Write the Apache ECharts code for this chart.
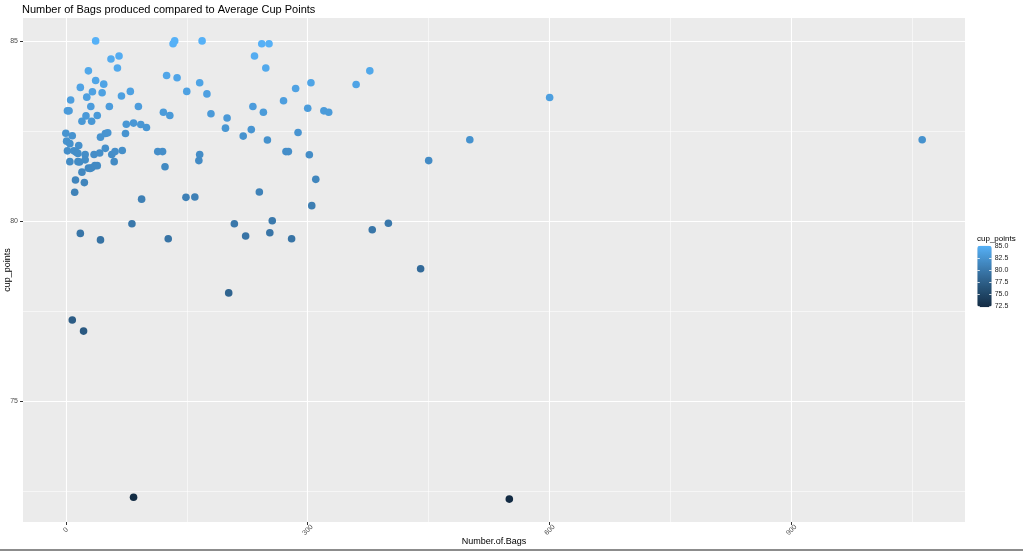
<!DOCTYPE html>
<html>
<head>
<meta charset="utf-8">
<title>Number of Bags produced compared to Average Cup Points</title>
<script src="https://cdn.jsdelivr.net/npm/echarts@6/dist/echarts.min.js"></script>
<style>
html,body{margin:0;padding:0;background:#fff;}
#chart{width:1023px;height:551px;}
</style>
</head>
<body>
<div id="chart"></div>
<script>
// ---- data ----
const numberOfBags = [
  37,133,135,169,243,252,56,66,234,64,248,28,377,125,138,37,47,166,304,360,
  285,18,33,45,26,69,80,150,175,270,6,2,4,31,54,90,232,300,320,326,
  121,129,180,200,245,25,39,20,32,75,84,93,100,198,230,220,250,288,0,8,
  43,49,52,74,1,5,16,2,10,13,15,24,35,42,49,57,61,70,114,120,
  166,165,273,276,302,5,15,17,24,60,123,20,28,30,32,36,39,12,23,11,
  94,149,160,240,310,305,450,501,600,1062,82,18,43,127,209,256,223,253,280,380,
  400,440,202,8,22,84,550
];
const cupPoints = [
  85.00,84.92,85.00,85.00,84.92,84.92,84.50,84.58,84.58,84.25,84.25,84.17,84.17,84.04,83.98,83.90,83.80,83.84,83.84,83.79,
  83.68,83.71,83.59,83.56,83.44,83.47,83.60,83.60,83.53,83.34,83.36,83.06,83.06,83.18,83.18,83.18,83.18,83.13,83.06,83.02,
  83.02,82.93,82.98,82.86,83.02,82.92,82.93,82.77,82.77,82.69,82.72,82.68,82.60,82.58,82.54,82.36,82.25,82.46,82.44,82.37,
  82.33,82.43,82.45,82.43,82.22,82.15,82.10,81.95,81.95,81.91,81.88,81.85,81.85,81.89,82.02,81.85,81.93,81.96,81.93,81.93,
  81.85,81.68,81.93,81.93,81.84,81.65,81.65,81.64,81.70,81.65,81.51,81.36,81.47,81.46,81.48,81.54,81.54,81.14,81.07,80.80,
  80.61,80.66,80.67,80.81,81.16,80.43,81.68,82.26,83.43,82.26,79.93,79.66,79.48,79.51,79.93,80.01,79.59,79.68,79.51,79.76,
  79.94,78.68,78.01,77.26,76.95,72.34,72.29
];
const xMajorTicks = [0, 300, 600, 900];
const xMinorTicks = [150, 450, 750, 1050];
const yMajorTicks = [75, 80, 85];
const yMinorTicks = [72.5, 77.5, 82.5];
const legendTicks = [72.5, 75, 77.5, 80, 82.5, 85];
const titleText = 'Number of Bags produced compared to Average Cup Points';
const xName = 'Number.of.Bags';
const yName = 'cup_points';
const legendTitle = 'cup_points';
const gradientColors = ['#132B43', '#224B6D', '#336A98', '#448DC7', '#56B1F7'];

// ---- derived ranges (ggplot-style 5% expansion) ----
const xMin = Math.min(...numberOfBags), xMax = Math.max(...numberOfBags);
const yMin = Math.min(...cupPoints), yMax = Math.max(...cupPoints);
const xPad = (xMax - xMin) * 0.05, yPad = (yMax - yMin) * 0.05;
const points = numberOfBags.map((b, i) => [b, cupPoints[i]]);

const FONT = 'Liberation Sans, Arial, Helvetica, sans-serif';
const chart = echarts.init(document.getElementById('chart'), null, {renderer: 'canvas'});

const option = {
  animation: false,
  backgroundColor: '#ffffff',
  textStyle: {fontFamily: FONT},
  title: {
    text: titleText, left: 22, top: 4, padding: 0,
    textStyle: {fontSize: 11, fontWeight: 'normal', color: '#000', fontFamily: FONT}
  },
  grid: [
    {left: 23, top: 18, width: 942, height: 504, show: true, backgroundColor: '#EBEBEB', borderWidth: 0,
     containLabel: false, outerBoundsMode: 'none'},
    {left: 977.3, top: 245.7, width: 14.4, height: 61.6, show: false, containLabel: false, outerBoundsMode: 'none'}
  ],
  xAxis: [
    {
      type: 'value', gridIndex: 0, min: xMin - xPad, max: xMax + xPad,
      name: xName, nameLocation: 'middle', nameGap: 15, nameMoveOverlap: false,
      nameTextStyle: {fontSize: 9, color: '#000', fontFamily: FONT},
      axisLine: {show: false, onZero: false},
      axisTick: {show: true, length: 3, customValues: xMajorTicks, lineStyle: {color: '#333', width: 1}},
      axisLabel: {customValues: xMajorTicks, rotate: 45, align: 'center', verticalAlign: 'middle', margin: 8,
                  fontSize: 7, color: '#4D4D4D', fontFamily: FONT},
      splitLine: {show: true, lineStyle: {color: '#ffffff', width: 1.1}}
    },
    {
      type: 'value', gridIndex: 0, min: xMin - xPad, max: xMax + xPad, position: 'bottom',
      axisLine: {show: false, onZero: false},
      axisTick: {show: false, customValues: xMinorTicks},
      axisLabel: {show: false, customValues: xMinorTicks},
      splitLine: {show: true, lineStyle: {color: '#ffffff', width: 0.55}}
    },
    {type: 'value', gridIndex: 1, show: false, min: 0, max: 1}
  ],
  yAxis: [
    {
      type: 'value', gridIndex: 0, min: yMin - yPad, max: yMax + yPad,
      name: yName, nameLocation: 'middle', nameGap: 11, nameRotate: 90, nameMoveOverlap: false,
      nameTextStyle: {fontSize: 9, color: '#000', fontFamily: FONT},
      axisLine: {show: false, onZero: false},
      axisTick: {show: true, length: 3, customValues: yMajorTicks, lineStyle: {color: '#333', width: 1}},
      axisLabel: {customValues: yMajorTicks, margin: 5, fontSize: 7, color: '#4D4D4D', fontFamily: FONT},
      splitLine: {show: true, lineStyle: {color: '#ffffff', width: 1.1}}
    },
    {
      type: 'value', gridIndex: 0, min: yMin - yPad, max: yMax + yPad, position: 'left',
      axisLine: {show: false, onZero: false},
      axisTick: {show: false, customValues: yMinorTicks},
      axisLabel: {show: false, customValues: yMinorTicks},
      splitLine: {show: true, lineStyle: {color: '#ffffff', width: 0.55}}
    },
    {
      type: 'value', gridIndex: 1, min: yMin, max: yMax, position: 'right', z: 10,
      axisLine: {show: false, onZero: false},
      axisTick: {show: true, inside: true, length: 2.5, customValues: legendTicks, lineStyle: {color: '#ffffff', width: 0.8}},
      axisLabel: {customValues: legendTicks, margin: 3, fontSize: 7, color: '#1a1a1a', fontFamily: FONT,
                  formatter: v => v.toFixed(1)},
      splitLine: {show: false}
    },
    {
      type: 'value', gridIndex: 1, min: yMin, max: yMax, position: 'left', z: 10,
      axisLine: {show: false, onZero: false},
      axisTick: {show: true, inside: true, length: 2.5, customValues: legendTicks, lineStyle: {color: '#ffffff', width: 0.8}},
      axisLabel: {show: false},
      splitLine: {show: false}
    }
  ],
  visualMap: {
    type: 'continuous', dimension: 1, seriesIndex: 0,
    min: yMin, max: yMax, orient: 'vertical',
    left: 977.3, top: 245.7, padding: 0,
    itemWidth: 14.4, itemHeight: 61.6,
    calculable: false, hoverLink: false, realtime: false,
    inRange: {color: gradientColors}
  },
  graphic: [
    {type: 'text', left: 977, top: 234.5, style: {text: legendTitle, fontSize: 8, fill: '#000', fontFamily: FONT}},
    {type: 'rect', left: 0, bottom: 0, shape: {width: 1023, height: 2}, style: {fill: '#8c8c8c'}}
  ],
  series: [
    {
      type: 'scatter', xAxisIndex: 0, yAxisIndex: 0,
      symbol: 'circle', symbolSize: 7.6,
      itemStyle: {opacity: 1, borderWidth: 0},
      emphasis: {disabled: true},
      data: points
    }
  ]
};
chart.setOption(option);
</script>
</body>
</html>
